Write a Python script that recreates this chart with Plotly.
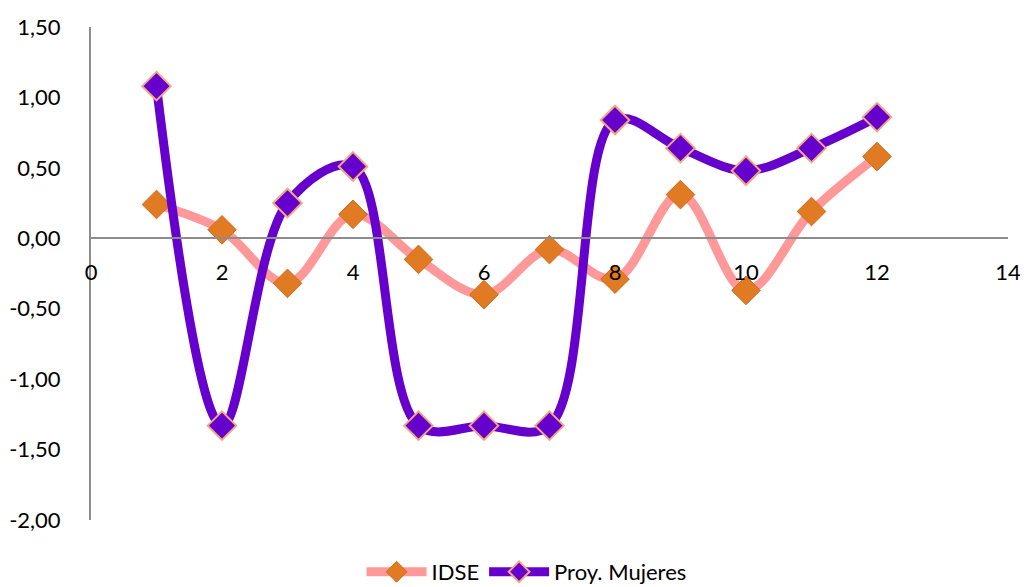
import plotly.graph_objects as go

x = [1, 2, 3, 4, 5, 6, 7, 8, 9, 10, 11, 12]
idse = [0.24, 0.06, -0.32, 0.17, -0.15, -0.40, -0.08, -0.29, 0.31, -0.37, 0.19, 0.58]
proy_mujeres = [1.08, -1.33, 0.25, 0.51, -1.33, -1.33, -1.33, 0.84, 0.64, 0.48, 0.64, 0.86]

y_ticks = [1.5, 1.0, 0.5, 0.0, -0.5, -1.0, -1.5, -2.0]
y_labels = ["1,50", "1,00", "0,50", "0,00", "-0,50", "-1,00", "-1,50", "-2,00"]

fig = go.Figure()

fig.add_trace(go.Scatter(
    x=x, y=idse, name="IDSE",
    mode="lines+markers",
    line=dict(color="#FF9999", width=9, shape="spline", smoothing=1.0),
    marker=dict(symbol="diamond", size=22, color="#E07B24",
                line=dict(color="#D06A1A", width=1)),
))

fig.add_trace(go.Scatter(
    x=x, y=proy_mujeres, name="Proy. Mujeres",
    mode="lines+markers",
    line=dict(color="#6600CC", width=9, shape="spline", smoothing=1.0),
    marker=dict(symbol="diamond", size=22, color="#6600CC",
                line=dict(color="#F4A582", width=2)),
))

y_min, y_max = -2.0, 1.5
zero_pos = (0 - y_min) / (y_max - y_min)

# page body has an 8px margin, so the figure is sized to fit the window
fig.update_layout(
    width=1020, height=579,
    plot_bgcolor="white", paper_bgcolor="white",
    margin=dict(l=83, r=20, t=19, b=67, autoexpand=False),
    font=dict(family="Lato, Open Sans, sans-serif", size=22, color="black"),
    showlegend=True,
    legend=dict(orientation="h", x=0.475, xanchor="center",
                yref="container", y=0.026, yanchor="middle",
                font=dict(size=22), itemwidth=60, tracegroupgap=0),
    xaxis=dict(
        range=[0, 14], tickvals=[0, 2, 4, 6, 8, 10, 12, 14],
        showgrid=False, zeroline=False,
        showline=True, linecolor="#8C8C8C", linewidth=2,
        anchor="free", position=zero_pos, automargin=False,
        ticks="", tickfont=dict(size=22), ticklabelstandoff=14,
    ),
    yaxis=dict(
        range=[y_min, y_max], tickvals=y_ticks, ticktext=y_labels,
        showgrid=False, zeroline=False, automargin=False,
        showline=True, linecolor="#8C8C8C", linewidth=2,
        ticks="", tickfont=dict(size=22), ticklabelstandoff=24,
    ),
)

fig.write_html("out.html")
